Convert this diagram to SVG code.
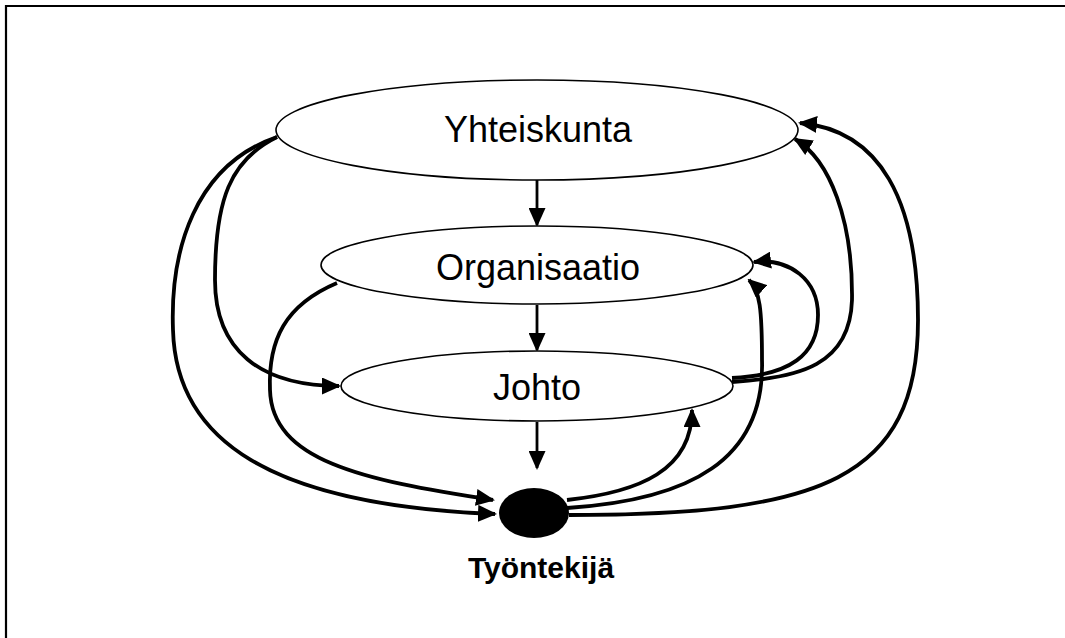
<svg xmlns="http://www.w3.org/2000/svg" width="1065" height="638" viewBox="0 0 1065 638">
<style>
.lbl{font-family:"Liberation Sans",Arial,sans-serif;font-size:36px;fill:#000;text-anchor:middle}
.bold{font-weight:bold;font-size:30px}
.node{fill:#fff;stroke:#000;stroke-width:1.6}
.conn{fill:none;stroke:#000;stroke-width:3.8;stroke-linejoin:round;marker-end:url(#ah)}
.vert{fill:none;stroke:#000;stroke-width:2.8;marker-end:url(#ah)}
</style>
<defs>
<marker id="ah" markerUnits="userSpaceOnUse" markerWidth="19" markerHeight="17" viewBox="0 0 19 17" refX="17" refY="8.5" orient="auto">
<path d="M0,0 L19,8.5 L0,17 z" fill="#000"/>
</marker>
</defs>
<rect width="1065" height="638" fill="#fff"/>
<path d="M6,640 V6 H1070" fill="none" stroke="#000" stroke-width="2.2"/>
<g id="connectors">
<path class="conn" d="M277,137 C195,165 170,250 173,330 C176,440 270,505 495,514"/>
<path class="conn" d="M277,137 C230,160 215,200 215,280 C215,350 260,386 339,386"/>
<path class="conn" d="M337,283 C285,305 268,340 270,390 C272,460 360,480 493,500"/>
<path class="conn" d="M567,500 C640,492 692,470 692,410"/>
<path class="conn" d="M567,508 C690,500 765,460 762,360 C762,310 760,290 749,280"/>
<path class="conn" d="M569,515 C820,515 918,480 918,320 C918,200 880,130 800,123"/>
<path class="conn" d="M732,382 C800,378 850,365 852,300 C853,220 830,160 795,139"/>
<path class="conn" d="M732,378 C790,375 818,355 818,315 C818,280 790,258 754,262"/>
<path class="vert" d="M537,180 V225"/>
<path class="vert" d="M537,305 V350"/>
<path class="vert" d="M537,422 V468"/>
</g>
<g id="yhteiskunta">
<ellipse class="node" cx="537" cy="130" rx="261" ry="50"/>
<text class="lbl" x="538" y="142">Yhteiskunta</text>
</g>
<g id="organisaatio">
<ellipse class="node" cx="537" cy="265" rx="216" ry="39"/>
<text class="lbl" x="538" y="280">Organisaatio</text>
</g>
<g id="johto">
<ellipse class="node" cx="537" cy="386" rx="196" ry="35"/>
<text class="lbl" x="537" y="400">Johto</text>
</g>
<g id="tyontekija">
<ellipse cx="534" cy="513" rx="35" ry="25" fill="#000"/>
<text class="lbl bold" x="541" y="578">Työntekijä</text>
</g>
</svg>
